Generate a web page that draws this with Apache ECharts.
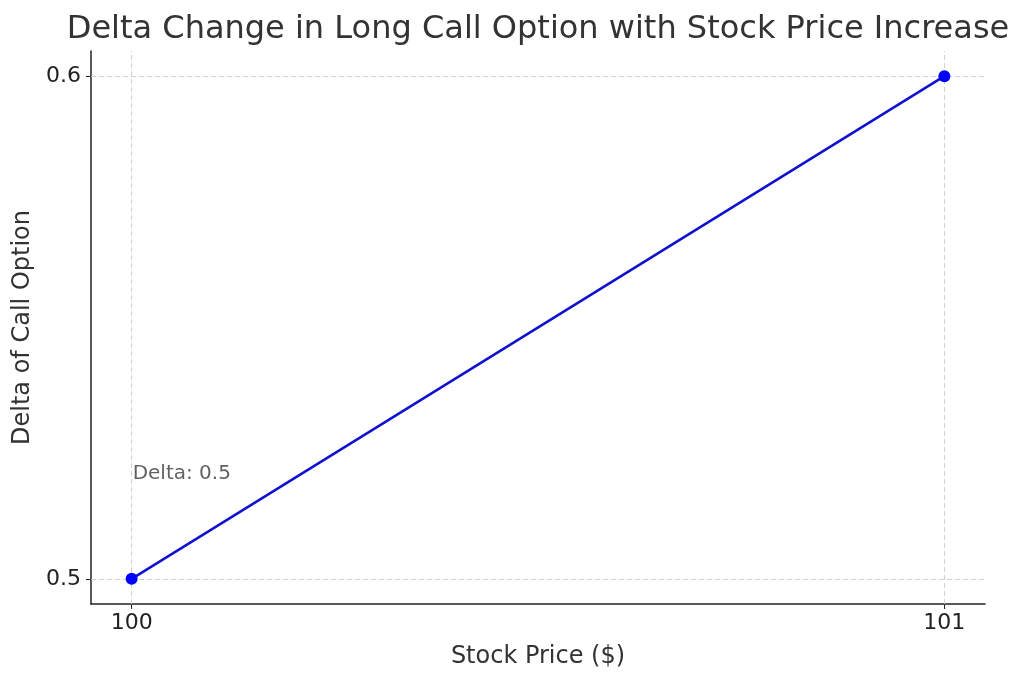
<!DOCTYPE html>
<html>
<head>
<meta charset="utf-8">
<script src="https://cdn.jsdelivr.net/npm/echarts@6/dist/echarts.min.js"></script>
<style>
  html, body { margin: 0; padding: 0; background: #fff; }
  #main { width: 1024px; height: 682px; }
</style>
</head>
<body>
<div id="main"></div>
<script>
// data
var stockPrice = [100, 101];
var deltaValues = [0.5, 0.6];
var xTicks = [100, 101];
var yTicks = [0.5, 0.6];
var noteText = 'Delta: 0.5';
var notePos = [100, 0.52];

var font = 'DejaVu Sans';
var chart = echarts.init(document.getElementById('main'));

var gridLines = [];
xTicks.forEach(function (v) { gridLines.push({ xAxis: v }); });
yTicks.forEach(function (v) { gridLines.push({ yAxis: v }); });

chart.setOption({
    animation: false,
    title: {
        text: 'Delta Change in Long Call Option with Stock Price Increase',
        left: 533,
        textAlign: 'center',
        top: 9,
        textStyle: { fontFamily: font, fontSize: 32, fontWeight: 'normal', color: '#333' }
    },
    grid: { left: 91, right: 39, top: 51, bottom: 78, outerBoundsMode: 'none', containLabel: false },
    xAxis: {
        type: 'value',
        min: 99.95,
        max: 101.05,
        name: 'Stock Price ($)',
        nameLocation: 'middle',
        nameGap: 41,
        nameTextStyle: { fontFamily: font, fontSize: 24, color: '#333' },
        axisLine: { lineStyle: { color: '#222', width: 1.5 } },
        axisTick: { show: true, length: 5, customValues: xTicks, lineStyle: { color: '#222' } },
        axisLabel: { customValues: xTicks, margin: 8, fontFamily: font, fontSize: 22, color: '#222' },
        splitLine: { show: false }
    },
    yAxis: {
        type: 'value',
        min: 0.495,
        max: 0.605,
        name: 'Delta of Call Option',
        nameLocation: 'middle',
        nameGap: 51,
        nameTextStyle: { fontFamily: font, fontSize: 24, color: '#333' },
        axisLine: { show: true, lineStyle: { color: '#222', width: 1.5 } },
        axisTick: { show: true, length: 5, customValues: yTicks, lineStyle: { color: '#222' } },
        axisLabel: { customValues: yTicks, margin: 10, fontFamily: font, fontSize: 22, color: '#222',
            formatter: function (v) { return v.toFixed(1); } },
        splitLine: { show: false }
    },
    series: [
        {
            // dashed grid lines at the tick positions, kept under the data
            type: 'line',
            data: [],
            z: 1,
            markLine: {
                silent: true,
                z: 1,
                symbol: 'none',
                label: { show: false },
                lineStyle: { color: '#d0d0d0', type: [5, 3], width: 1 },
                data: gridLines
            }
        },
        {
            type: 'line',
            data: stockPrice.map(function (x, i) { return [x, deltaValues[i]]; }),
            symbol: 'circle',
            symbolSize: 12,
            lineStyle: { color: '#1010d0', width: 2.5 },
            itemStyle: { color: '#0000ff', borderWidth: 0 },
            z: 10
        },
        {
            type: 'scatter',
            data: [notePos],
            symbolSize: 0,
            z: 11,
            label: {
                show: true,
                position: 'right',
                distance: 0,
                offset: [1, -5],
                formatter: noteText,
                fontFamily: font,
                fontSize: 20,
                color: '#3a3a3a'
            }
        }
    ]
});
</script>
</body>
</html>
